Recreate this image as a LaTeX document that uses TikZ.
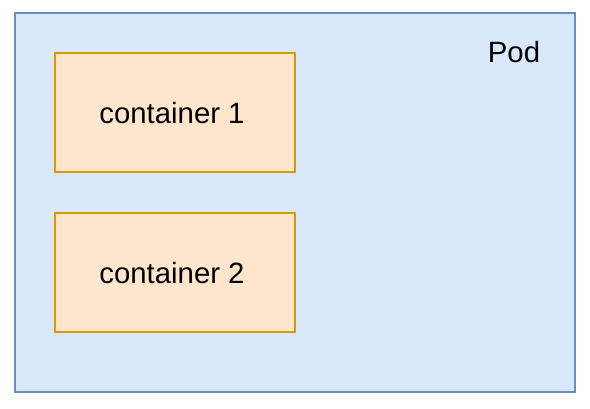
\documentclass[tikz,border=0pt]{standalone}
\usepackage{fontspec}
\setmainfont{Liberation Sans}
\definecolor{podfill}{HTML}{DAE8FC}
\definecolor{podline}{HTML}{6C8EBF}
\definecolor{cfill}{HTML}{FFE6CC}
\definecolor{cline}{HTML}{D79B00}
\tikzset{
  podbox/.style={draw=podline, fill=podfill, line width=1.5pt, inner sep=0pt, minimum width=420pt, minimum height=284.25pt},
  contbox/.style={draw=cline, fill=cfill, line width=1.5pt, inner sep=0pt, minimum width=180pt, minimum height=89.25pt},
  lbl/.style={font=\fontsize{22}{24}\selectfont, inner sep=0pt}
}
\begin{document}
\begin{tikzpicture}[x=0.75pt, y=-0.75pt]
\useasboundingbox[fill=white] (0,0) rectangle (590,408);
\node[podbox] (podbox) at (295,202.5) {};
\node[lbl] (pod) at (514,52) {Pod};
\node[contbox] (box1) at (175,112.5) {};
\node[lbl] (c1) at (172,113) {container 1};
\node[contbox] (box2) at (175,272.5) {};
\node[lbl] (c2) at (172,273) {container 2};
\end{tikzpicture}
\end{document}
